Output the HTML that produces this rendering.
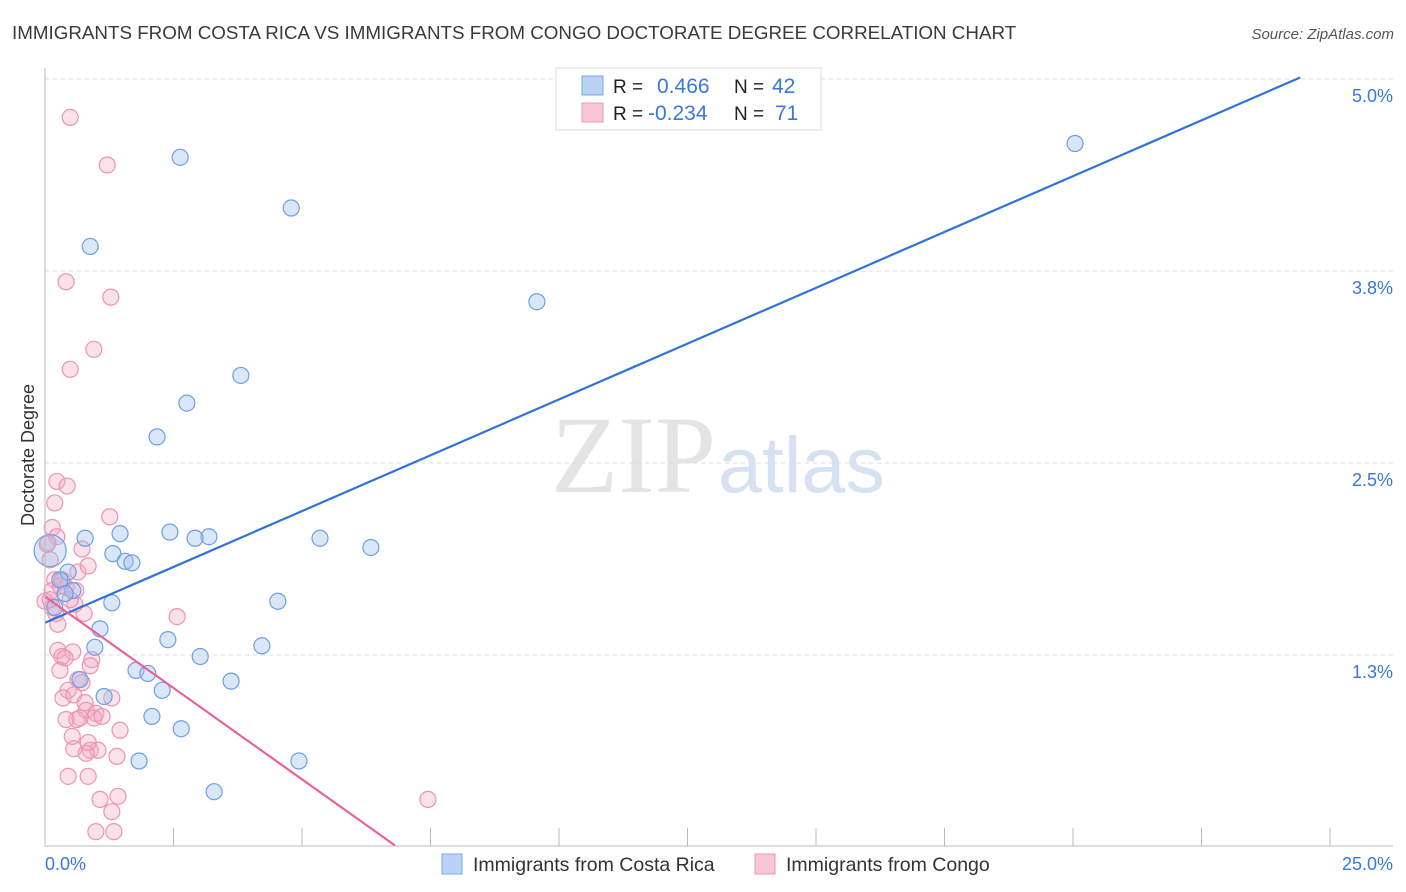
<!DOCTYPE html>
<html><head><meta charset="utf-8"><style>
body{margin:0;background:#fff;font-family:"Liberation Sans",sans-serif;}
svg{display:block}
</style></head><body>
<svg id="chart" width="1406" height="892" xmlns="http://www.w3.org/2000/svg">
<text x="12" y="39" font-size="18.8" fill="#3a3a3a">IMMIGRANTS FROM COSTA RICA VS IMMIGRANTS FROM CONGO DOCTORATE DEGREE CORRELATION CHART</text>
<text x="1394" y="39" font-size="15" fill="#555" font-style="italic" text-anchor="end">Source: ZipAtlas.com</text>
<text x="716" y="492" font-size="110" fill="#e4e4e4" font-family="Liberation Serif,serif" text-anchor="end">ZIP</text>
<text x="718" y="492" font-size="79" fill="#d6e2f2">atlas</text>
<text transform="translate(34,455) rotate(-90)" font-size="18" fill="#333" text-anchor="middle">Doctorate Degree</text>
<g id="grid"></g><g id="pts"></g><g id="lines"></g>
<line x1="45" y1="68" x2="45" y2="846" stroke="#bbb"/>
<line x1="45" y1="846" x2="1393" y2="846" stroke="#bbb"/>
<text x="45" y="870" font-size="18" fill="#3a78d8">0.0%</text>
<text x="1393" y="870" font-size="18" fill="#3a78d8" text-anchor="end">25.0%</text>
<g>
<rect x="556" y="68" width="265" height="62" fill="#fff" stroke="#ddd"/>
<rect x="582" y="76" width="21" height="19" fill="#b8d3f5" stroke="#7aa8e6"/>
<rect x="582" y="103" width="21" height="19" fill="#f9c6d6" stroke="#ec9ab5"/>
<text x="613" y="93" font-size="19" fill="#222">R =</text><text x="657" y="93" font-size="21" fill="#3a78d8">0.466</text>
<text x="734" y="93" font-size="19" fill="#222">N =</text><text x="772" y="93" font-size="21" fill="#3a78d8">42</text>
<text x="613" y="120" font-size="19" fill="#222">R =</text><text x="648" y="120" font-size="21" fill="#3a78d8">-0.234</text>
<text x="734" y="120" font-size="19" fill="#222">N =</text><text x="775" y="120" font-size="21" fill="#3a78d8">71</text>
</g>
<g>
<rect x="442" y="854" width="20" height="20" fill="#b8d3f5" stroke="#7aa8e6"/>
<text x="473" y="871" font-size="19.5" fill="#333">Immigrants from Costa Rica</text>
<rect x="755" y="854" width="20" height="20" fill="#f9c6d6" stroke="#ec9ab5"/>
<text x="786" y="871" font-size="19.5" fill="#333">Immigrants from Congo</text>
</g>
</svg>
<script>
const yTicks=[1.25,2.5,3.75,5.0];
const yTickLabels=["1.3%","2.5%","3.8%","5.0%"];
const xTicks=[0,2.5,5,7.5,10,12.5,15,17.5,20,22.5,25];
const blueX=[2.63,4.79,0.88,9.57,20.04,3.81,2.76,2.18,2.43,1.46,3.19,2.92,0.78,5.35,6.34,1.32,1.56,1.69,0.45,0.29,0.54,0.39,1.30,4.53,0.19,1.07,2.39,4.22,0.97,3.02,1.77,2.00,0.68,3.62,2.28,1.15,2.08,2.65,1.83,4.94,3.29,0.10];
const blueY=[4.49,4.16,3.91,3.55,4.58,3.07,2.89,2.67,2.05,2.04,2.02,2.01,2.01,2.01,1.95,1.91,1.86,1.85,1.79,1.74,1.67,1.65,1.59,1.60,1.56,1.42,1.35,1.31,1.30,1.24,1.15,1.13,1.09,1.08,1.02,0.98,0.85,0.77,0.56,0.56,0.36,1.93];
const pinkX=[0.49,1.21,0.41,1.28,0.95,0.49,0.23,0.43,0.19,1.26,0.14,0.23,0.04,0.72,0.10,0.64,0.84,0.19,0.33,0.14,0.41,0.60,0.0,0.58,0.14,0.76,2.57,0.21,0.25,0.54,0.33,0.39,0.91,0.29,0.88,0.64,0.45,0.72,0.35,0.56,1.30,0.78,0.80,0.99,0.62,0.41,0.95,0.53,1.46,0.56,0.88,1.03,0.80,1.40,0.84,0.45,0.84,1.07,1.42,7.45,1.30,0.99,1.34,0.33,0.49,0.10,0.25,0.68,1.11,0.06,0.30];
const pinkY=[4.75,4.44,3.68,3.58,3.24,3.11,2.38,2.35,2.24,2.15,2.08,2.02,1.97,1.94,1.87,1.79,1.83,1.74,1.73,1.67,1.69,1.67,1.60,1.58,1.56,1.52,1.50,1.52,1.28,1.27,1.24,1.23,1.22,1.15,1.18,1.09,1.02,1.07,0.97,0.99,0.97,0.94,0.89,0.87,0.83,0.83,0.84,0.72,0.76,0.64,0.63,0.63,0.61,0.59,0.68,0.46,0.46,0.31,0.33,0.31,0.23,0.10,0.10,1.74,1.61,1.61,1.45,0.84,0.85,1.98,1.70];
const blueTrend=[[0,1.46],[24.42,5.01]];
const pinkTrend=[[0,1.63],[6.81,0.01]];
const X=v=>45+v*(1285/25);
const Y=v=>847-v*153.6;
const NS="http://www.w3.org/2000/svg";
function mk(t,a,p){const e=document.createElementNS(NS,t);for(const k in a)e.setAttribute(k,a[k]);p.appendChild(e);return e;}
const grid=document.getElementById('grid'),pts=document.getElementById('pts'),lines=document.getElementById('lines');
yTicks.forEach((t,i)=>{
 const l=mk('line',{x1:45,x2:1393,y1:Y(t),y2:Y(t),stroke:'#ddd','stroke-dasharray':'4,4'},grid);
 
 
 const tx=mk('text',{x:1393,y:Y(t)+23,'font-size':18,fill:'#3a78d8','text-anchor':'end'},grid);
 tx.textContent=yTickLabels[i];
 
 
});
xTicks.forEach(t=>{
 const l=mk('line',{x1:X(t),x2:X(t),y1:828,y2:846,stroke:'#bbb'},grid);
 
 
});
pinkX.forEach((x,i)=>{
 const c=mk('circle',{cx:X(x),cy:Y(pinkY[i]),r:8,fill:'rgba(244,170,196,0.35)',stroke:'#ec93b2','stroke-width':1.2},pts);
 
 
});
blueX.forEach((x,i)=>{
 const c=mk('circle',{cx:X(x),cy:Y(blueY[i]),r:i==blueX.length-1?16:8,fill:'rgba(160,196,240,0.4)',stroke:'#6e9fe0','stroke-width':1.2},pts);
 
 
});
const bl=mk('line',{x1:X(blueTrend[0][0]),y1:Y(blueTrend[0][1]),x2:X(blueTrend[1][0]),y2:Y(blueTrend[1][1]),stroke:'#2f72d8','stroke-width':2.2},lines);


const pl=mk('line',{x1:X(pinkTrend[0][0]),y1:Y(pinkTrend[0][1]),x2:X(pinkTrend[1][0]),y2:Y(pinkTrend[1][1]),stroke:'#e8639a','stroke-width':2.2},lines);


</script>
</body></html>
